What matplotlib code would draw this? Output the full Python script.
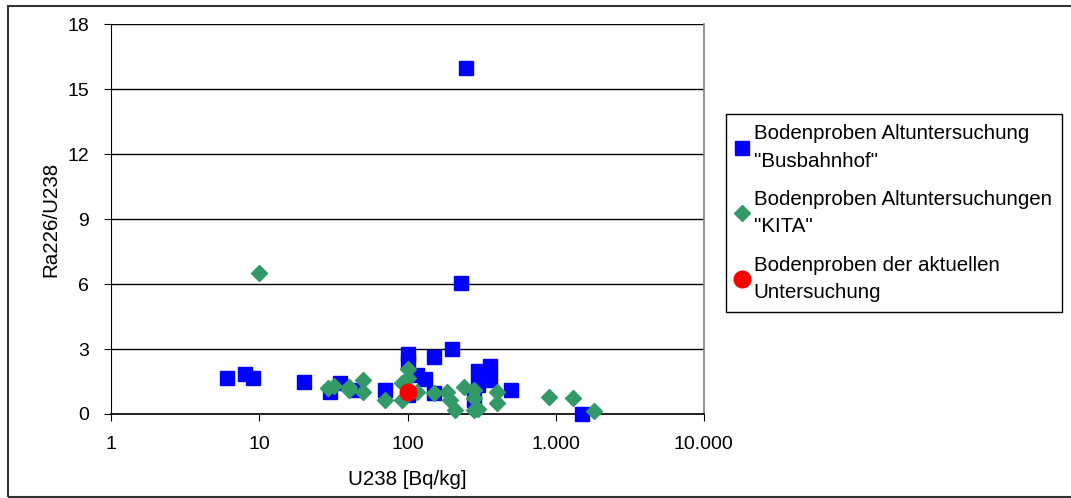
import matplotlib.pyplot as plt
from matplotlib.patches import Rectangle
from matplotlib.ticker import FixedLocator, FuncFormatter, NullLocator

plt.rcParams['font.family'] = ['Liberation Sans', 'DejaVu Sans']

# Busbahnhof (blue squares)
bus_u238 = [6, 8, 9, 20, 30, 35, 44, 70, 100, 100, 100, 116, 132, 150, 150,
            200, 230, 250, 279, 300, 300, 362, 362, 500, 1500]
bus_ratio = [1.67, 1.85, 1.67, 1.5, 1.0, 1.42, 1.1, 1.1, 2.78, 2.4, 0.88, 1.8,
             1.62, 2.65, 0.96, 3.0, 6.06, 16.0, 0.65, 2.0, 1.35, 2.2, 1.57,
             1.1, 0.0]

# KITA (green diamonds)
kita_u238 = [10, 29, 32, 40, 40, 50, 50, 70, 92, 92, 100, 100, 116, 150, 185,
             195, 210, 239, 279, 279, 279, 300, 402, 402, 897, 1303, 1806]
kita_ratio = [6.5, 1.19, 1.3, 1.26, 1.1, 1.57, 1.03, 0.65, 1.42, 0.65, 2.1,
              1.65, 1.03, 0.96, 1.03, 0.65, 0.19, 1.26, 1.1, 0.74, 0.19, 0.22,
              1.03, 0.5, 0.77, 0.73, 0.15]

# aktuelle Untersuchung (red circle)
akt_u238 = [100]
akt_ratio = [1.03]

x_ticks = [1, 10, 100, 1000, 10000]
y_ticks = [0, 3, 6, 9, 12, 15, 18]

fig = plt.figure(figsize=(10.71, 4.98), dpi=100)
ax = fig.add_axes([0.1039, 0.1687, 0.5532, 0.7823])

ax.plot(bus_u238, bus_ratio, 's', color='#0000FF', ms=10.5, mec='#0000FF',
        label='Bodenproben Altuntersuchung\n"Busbahnhof"', clip_on=False, zorder=3)
ax.plot(kita_u238, kita_ratio, 'D', color='#339966', ms=8.5, mec='#339966',
        label='Bodenproben Altuntersuchungen\n"KITA"', clip_on=False, zorder=4)
ax.plot(akt_u238, akt_ratio, 'o', color='#FF0000', ms=12, mec='#FF0000',
        label='Bodenproben der aktuellen\nUntersuchung', clip_on=False, zorder=5)

ax.set_xscale('log')
ax.set_xlim(1, 10000)
ax.set_ylim(0, 18)
ax.xaxis.set_major_locator(FixedLocator(x_ticks))
ax.xaxis.set_minor_locator(NullLocator())
ax.xaxis.set_major_formatter(FuncFormatter(lambda v, p: f'{int(v):,}'.replace(',', '.')))
ax.set_yticks(y_ticks)

ax.grid(axis='y', color='black', lw=1)
ax.set_axisbelow(True)
ax.spines['top'].set_visible(False)
ax.spines['right'].set_color('#808080')
ax.spines['right'].set_linewidth(1.2)
ax.spines['left'].set_color('black')
ax.spines['bottom'].set_linewidth(1.2)
ax.tick_params(labelsize=14, length=5, direction='out')
ax.tick_params(axis='x', pad=11)
ax.tick_params(axis='y', pad=11)

ax.set_xlabel('U238 [Bq/kg]', fontsize=14.8, labelpad=12)
ax.set_ylabel('Ra226/U238', fontsize=14.8, labelpad=5)

leg = fig.legend(loc='upper left', bbox_to_anchor=(726 / 1071, 1 - 114 / 498),
                 fontsize=14.8, frameon=True, fancybox=False, framealpha=1,
                 edgecolor='black', handlelength=0.6, handletextpad=0.25,
                 labelspacing=0.95, borderpad=0.5, borderaxespad=0)
leg.get_frame().set_linewidth(1)
for t in leg.get_texts():
    t.set_linespacing(1.55)

# outer chart border
fig.patches.append(Rectangle((7.5 / 1071, 1.5 / 498), 1075 / 1071, 490 / 498,
                             transform=fig.transFigure, fill=False,
                             edgecolor='#333333', lw=1.5))

fig.savefig('out.png', dpi=100)
